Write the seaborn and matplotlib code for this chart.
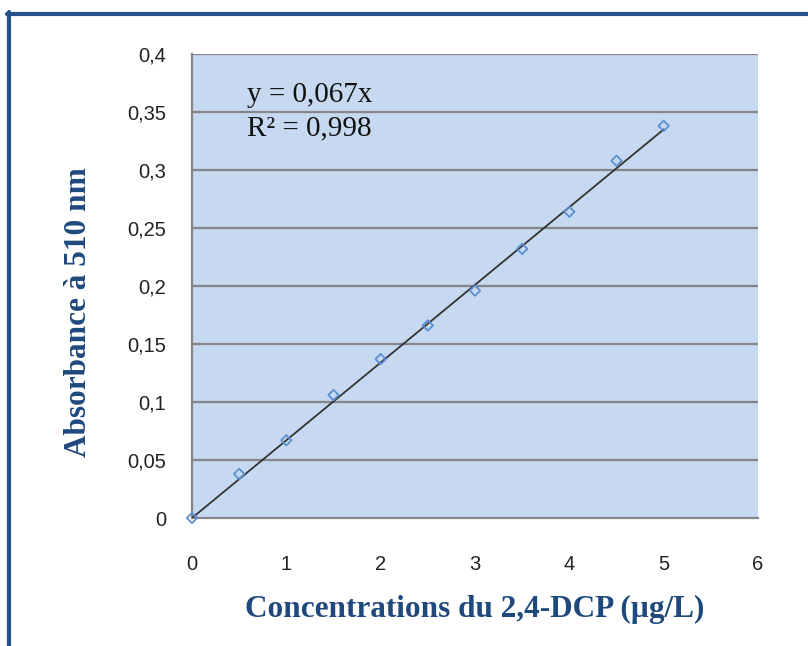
import numpy as np
import pandas as pd
import matplotlib
matplotlib.use("Agg")
import matplotlib.pyplot as plt
import seaborn as sns
from matplotlib.ticker import FuncFormatter
from matplotlib.lines import Line2D

# ================= DADOS =================
concentracoes = [0, 0.5, 1, 1.5, 2, 2.5, 3, 3.5, 4, 4.5, 5]
absorbancias = [0.0, 0.038, 0.067, 0.106, 0.137, 0.166, 0.196, 0.232, 0.264, 0.308, 0.338]
pente = 0.067
r2 = 0.998

x_ticks = [0, 1, 2, 3, 4, 5, 6]
y_ticks = [0, 0.05, 0.1, 0.15, 0.2, 0.25, 0.3, 0.35, 0.4]

COR_FUNDO = "#c6d9f1"
COR_GRADE = "#868686"
COR_TITULO = "#1f497d"
COR_PONTO = "#5b8fd0"

df = pd.DataFrame({"conc": concentracoes, "abs": absorbancias})
tendencia = pd.DataFrame({"conc": [0, max(concentracoes)]})
tendencia["abs"] = pente * tendencia["conc"]

sns.set_style("white")
plt.rcParams["font.family"] = ["Liberation Sans", "DejaVu Sans"]

fig = plt.figure(figsize=(8.08, 6.46), dpi=100)
ax = fig.add_axes([192 / 808, 1 - 518 / 646, (758 - 192) / 808, (518 - 54) / 646])
ax.set_facecolor(COR_FUNDO)

# grade horizontal
for v in y_ticks[1:]:
    ax.axhline(v, color=COR_GRADE, linewidth=1.6, zorder=1)

sns.lineplot(data=tendencia, x="conc", y="abs", ax=ax, color="#333333",
             linewidth=1.3, zorder=3)
sns.scatterplot(data=df, x="conc", y="abs", ax=ax, marker="D", s=28,
                facecolor="none", edgecolor=COR_PONTO, linewidth=1.3, zorder=4,
                clip_on=False)

ax.set_xlim(0, 6)
ax.set_ylim(0, 0.4)
ax.set_xticks(x_ticks)
ax.set_yticks(y_ticks)
virgula = FuncFormatter(lambda v, p: f"{v:g}".replace(".", ","))
ax.xaxis.set_major_formatter(virgula)
ax.yaxis.set_major_formatter(virgula)
ax.tick_params(axis="both", direction="out", length=6.5, width=1.2, color=COR_GRADE,
               labelsize=14.5, labelcolor="#222222")
ax.tick_params(axis="x", pad=20)
ax.tick_params(axis="y", pad=12)

for lado in ["top", "right"]:
    ax.spines[lado].set_visible(False)
for lado in ["left", "bottom"]:
    ax.spines[lado].set_color(COR_GRADE)
    ax.spines[lado].set_linewidth(1.6)

ax.set_xlabel("Concentrations du 2,4-DCP (µg/L)", fontsize=22.5, fontweight="bold",
              color=COR_TITULO, family="Liberation Serif")
ax.set_ylabel("Absorbance à 510 nm", fontsize=22.5, fontweight="bold",
              color=COR_TITULO, family="Liberation Serif")
ax.xaxis.set_label_coords(0.499, -0.166)
ax.yaxis.set_label_coords(-0.175, 0.444)

ax.text(0.58, 0.365, f"y = {pente:g}x".replace(".", ","), fontsize=21,
        family="Liberation Serif", color="#111111", va="center")
ax.text(0.58, 0.336, f"R² = {r2:g}".replace(".", ","), fontsize=21,
        family="Liberation Serif", color="#111111", va="center")

# moldura azul (esquerda e topo)
fig.add_artist(Line2D([8.5 / 808, 8.5 / 808], [0, 1 - 12 / 646], color="#24518a",
                      linewidth=3, transform=fig.transFigure))
fig.add_artist(Line2D([7 / 808, 1], [1 - 13.5 / 646, 1 - 13.5 / 646], color="#24518a",
                      linewidth=3, transform=fig.transFigure))

fig.savefig("out.png", dpi=100)
